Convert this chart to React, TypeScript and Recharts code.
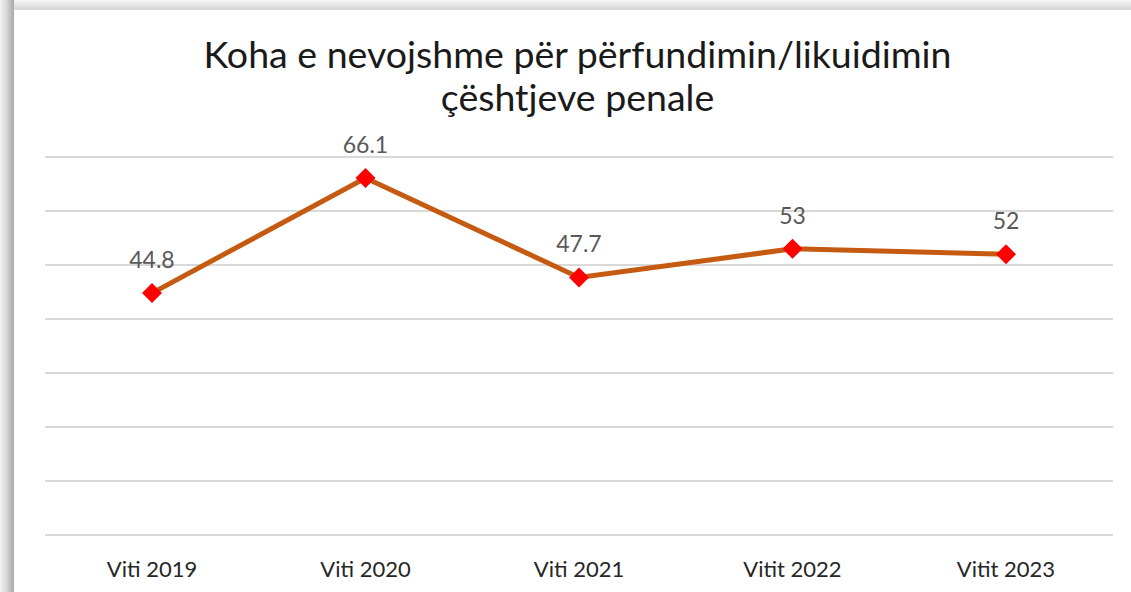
import React from "react";
import { LineChart, Line, XAxis, YAxis, CartesianGrid, LabelList } from "recharts";

const categories = ["Viti 2019", "Viti 2020", "Viti 2021", "Vitit 2022", "Vitit 2023"];
const values = [44.8, 66.1, 47.7, 53, 52];
const yTicks = [0, 10, 20, 30, 40, 50, 60, 70];

const data = categories.map((name, i) => ({ name, value: values[i] }));

const FONT = "Lato, 'Open Sans', sans-serif";

const Diamond = (props: any) => {
  const { cx, cy } = props;
  if (cx == null || cy == null) return null;
  const r = 10;
  return (
    <polygon
      points={`${cx},${cy - r} ${cx + r},${cy} ${cx},${cy + r} ${cx - r},${cy}`}
      fill="#ff0000"
    />
  );
};

export default function App() {
  return (
    <div
      style={{
        position: "absolute",
        left: 0,
        top: 0,
        width: 1131,
        height: 592,
        overflow: "hidden",
        background: "#ffffff",
        fontFamily: FONT,
      }}
    >
      {/* frame with soft shadow top/left */}
      <div
        style={{
          position: "absolute",
          left: 0,
          top: 0,
          width: 14,
          height: 592,
          background: "linear-gradient(to right, #f4f4f4, #d0d0d0 55%, #a8a8a8)",
        }}
      />
      <div
        style={{
          position: "absolute",
          left: 14,
          top: 0,
          width: 1117,
          height: 10,
          background: "linear-gradient(to bottom, #f8f8f8, #e2e2e2 60%, #d6d6d6)",
        }}
      />
      <div
        style={{
          position: "absolute",
          left: 0,
          top: 32,
          width: 1131,
          textAlign: "center",
          paddingLeft: 24,
          boxSizing: "border-box",
          fontSize: 37.5,
          lineHeight: "43px",
          color: "#1a1a1a",
        }}
      >
        Koha e nevojshme për përfundimin/likuidimin
        <br />
        çështjeve penale
      </div>
      <div style={{ position: "absolute", left: 0, top: 0 }}>
        <LineChart
          width={1131}
          height={592}
          data={data}
          margin={{ top: 157, right: 18, bottom: 27, left: 45 }}
        >
          <CartesianGrid vertical={false} stroke="#d9d9d9" strokeWidth={2} />
          <YAxis hide domain={[0, 70]} ticks={yTicks} />
          <XAxis
            dataKey="name"
            padding={{ left: 107, right: 107 }}
            axisLine={{ stroke: "#d9d9d9", strokeWidth: 2 }}
            tickLine={false}
            tick={{ fill: "#262626", fontSize: 22, fontFamily: FONT }}
            tickMargin={20}
          />
          <Line
            type="linear"
            dataKey="value"
            stroke="#c55a11"
            strokeWidth={5}
            dot={<Diamond />}
            activeDot={false}
            isAnimationActive={false}
          >
            <LabelList
              dataKey="value"
              position="top"
              offset={25}
              fill="#595959"
              fontSize={23}
              fontFamily={FONT}
            />
          </Line>
        </LineChart>
      </div>
    </div>
  );
}
